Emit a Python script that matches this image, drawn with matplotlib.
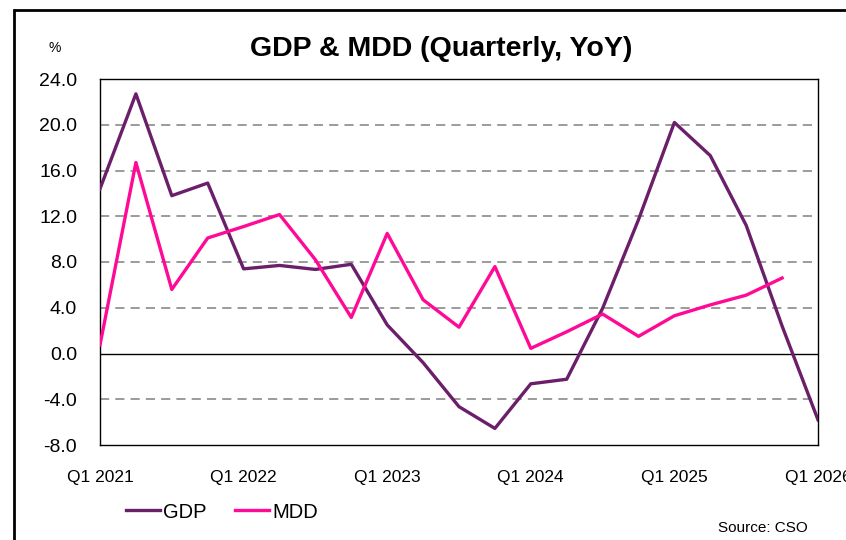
import matplotlib
matplotlib.use("Agg")
import matplotlib.pyplot as plt
from matplotlib.patches import Rectangle

plt.rcParams['font.family'] = ['Liberation Sans', 'DejaVu Sans']

quarters = ['Q1 2021', 'Q2 2021', 'Q3 2021', 'Q4 2021',
            'Q1 2022', 'Q2 2022', 'Q3 2022', 'Q4 2022',
            'Q1 2023', 'Q2 2023', 'Q3 2023', 'Q4 2023',
            'Q1 2024', 'Q2 2024', 'Q3 2024', 'Q4 2024',
            'Q1 2025', 'Q2 2025', 'Q3 2025', 'Q4 2025',
            'Q1 2026']
gdp = [14.4, 22.7, 13.8, 14.9, 7.4, 7.7, 7.35, 7.8, 2.5, -0.8, -4.65, -6.55,
       -2.65, -2.25, 3.95, 11.7, 20.2, 17.3, 11.2, 2.4, -5.8]
mdd = [0.75, 16.7, 5.6, 10.1, 11.1, 12.15, 8.2, 3.15, 10.5, 4.7, 2.3, 7.6,
       0.45, 1.9, 3.45, 1.5, 3.3, 4.25, 5.1, 6.6, None]
yticks = [-8, -4, 0, 4, 8, 12, 16, 20, 24]

gdp_color = '#6B1F6B'
mdd_color = '#FF0A96'

fig = plt.figure(figsize=(8.46, 5.40), dpi=100)
ax = fig.add_axes([100/846, 1 - 445/540, 718/846, 366/540])

x = list(range(len(quarters)))
mdd_x = [i for i, v in zip(x, mdd) if v is not None]
mdd_y = [v for v in mdd if v is not None]

for t in yticks:
    if t in (-8, 24):
        continue
    if t == 0:
        ax.axhline(0, color='black', lw=1.0, zorder=1)
    else:
        ax.axhline(t, color='#808080', lw=1.1, ls=(0, (6, 4)), zorder=1)

ax.plot(x, gdp, color=gdp_color, lw=2.4, label='GDP', zorder=3)
ax.plot(mdd_x, mdd_y, color=mdd_color, lw=2.4, label='MDD', zorder=3)

ax.set_xlim(0, len(quarters) - 1)
ax.set_ylim(-8, 24)
ax.set_yticks(yticks)
ax.set_yticklabels([f'{t:.1f}' for t in yticks], fontsize=14)
ax.set_xticks(x[::4])
ax.set_xticklabels(quarters[::4], fontsize=12.5)
ax.tick_params(axis='both', length=0)
ax.tick_params(axis='y', pad=16.5)
ax.tick_params(axis='x', pad=18)
for s in ax.spines.values():
    s.set_linewidth(1.0)
    s.set_color('black')

fig.text(441/846, 1 - 49/540, 'GDP & MDD (Quarterly, YoY)', ha='center', va='center',
         fontsize=20.5, fontweight='bold')
fig.text(55/846, 1 - 48/540, '%', ha='center', va='center', fontsize=10)
fig.text(808/846, 1 - 528/540, 'Source: CSO', ha='right', va='center', fontsize=11)

leg = ax.legend(loc='center left', bbox_to_anchor=(108/846, 1 - 512/540),
                bbox_transform=fig.transFigure, ncol=2, frameon=False,
                fontsize=14.5, handlelength=1.7, handletextpad=0.15, columnspacing=1.4)

# outer frame of the exported chart (cut off on the right and bottom)
fig.patches.append(Rectangle((14/846, -0.1), 1.0, 1 - 10/540 + 0.1,
                             transform=fig.transFigure, fill=False,
                             edgecolor='black', lw=2.0))

fig.savefig('out.png', dpi=100)
